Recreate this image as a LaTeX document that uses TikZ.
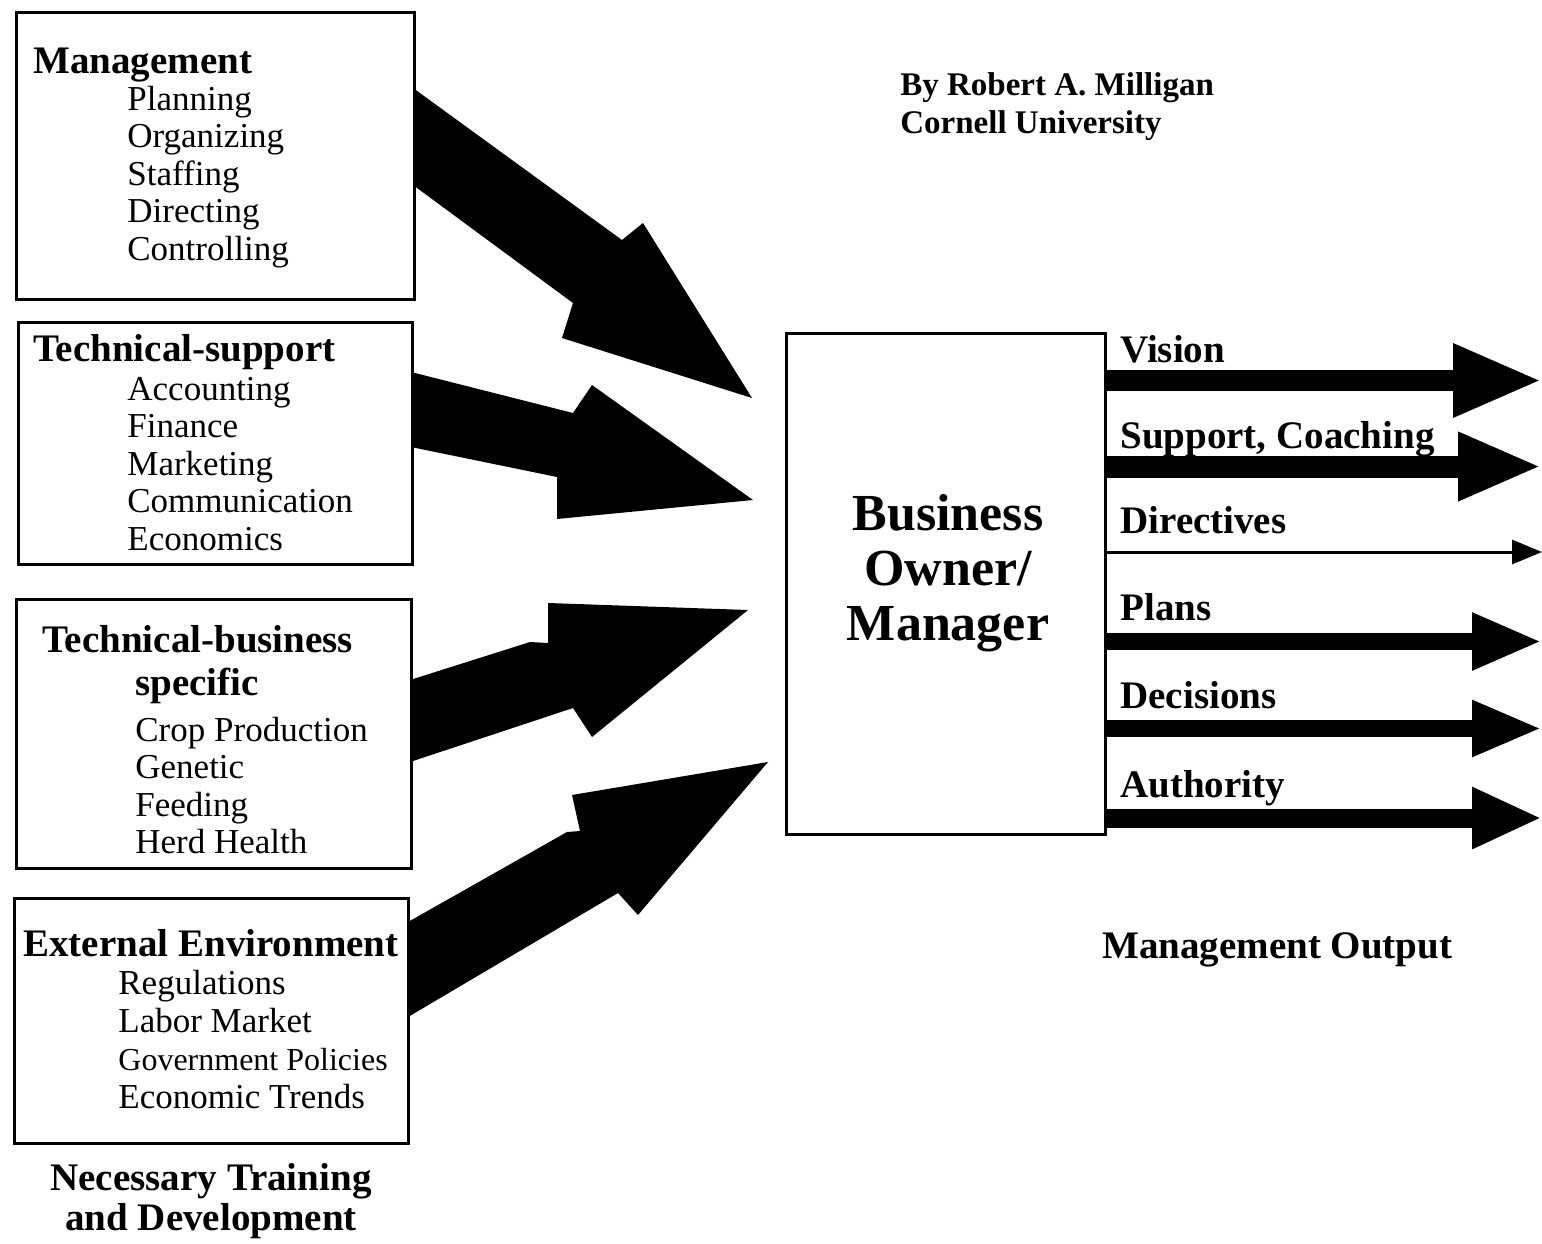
\documentclass[tikz,border=0pt]{standalone}
\usepackage{fontspec}
\setmainfont{Liberation Serif}
\usetikzlibrary{arrows.meta}
\begin{document}
\begin{tikzpicture}[x=0.5pt,y=-0.5pt,
  box/.style={draw, line width=1.5pt, anchor=north west, inner sep=0pt},
  ttl/.style={anchor=base west, inner sep=0pt, font=\fontsize{19.5}{22}\selectfont\bfseries},
  itm/.style={anchor=base west, inner sep=0pt, font=\fontsize{17.5}{20}\selectfont},
  ctr/.style={anchor=base, inner sep=0pt, font=\fontsize{26}{30}\selectfont\bfseries},
  byl/.style={anchor=base west, inner sep=0pt, font=\fontsize{16.5}{19}\selectfont\bfseries},
  bigarrow/.style={fill=black, draw=none},
  outarrow/.style n args={3}{line width=#1, -{Triangle[length=#2,width=#3]}}]
\useasboundingbox (0,0) rectangle (1542,1243);

% boxes
\node[box, minimum width=199pt, minimum height=143.5pt] (b1) at (15,11) {};
\node[box, minimum width=197pt, minimum height=121pt] (b2) at (17,321) {};
\node[box, minimum width=197.5pt, minimum height=134.5pt] (b3) at (15,598) {};
\node[box, minimum width=197pt, minimum height=122.5pt] (b4) at (13,897) {};
\node[box, minimum width=159.5pt, minimum height=250.5pt] (c) at (785,332) {};

% box 1
\node[ttl] (t1) at (33,73) {Management};
\foreach \t [count=\i] in {Planning,Organizing,Staffing,Directing,Controlling}
  \node[itm] (i1\i) at (127,110+37.5*\i-37.5) {\t};
% box 2
\node[ttl] (t2) at (33,361) {Technical-support};
\foreach \t [count=\i] in {Accounting,Finance,Marketing,Communication,Economics}
  \node[itm] (i2\i) at (127,400+37.5*\i-37.5) {\t};
% box 3
\node[ttl] (t3) at (42,652) {Technical-business};
\node[ttl] (t3b) at (135,695) {specific};
\foreach \t [count=\i] in {Crop Production,Genetic,Feeding,Herd Health}
  \node[itm] (i3\i) at (135,741+37.5*\i-37.5) {\t};
% box 4
\node[ttl] (t4) at (23,956) {External Environment};
\node[itm] (i41) at (118,994) {Regulations};
\node[itm] (i42) at (118,1032) {Labor Market};
\node[itm, font=\fontsize{16}{19}\selectfont] (i43) at (118,1070) {Government Policies};
\node[itm] (i44) at (118,1108) {Economic Trends};

\node[ttl, anchor=base] (n1) at (211,1190) {Necessary Training};
\node[ttl, anchor=base] (n2) at (211,1230) {and Development};

% byline
\node[byl] (by1) at (900,95) {By Robert A. Milligan};
\node[byl] (by2) at (900,133) {Cornell University};

% center
\node[ctr] (c1) at (948,530) {Business};
\node[ctr] (c2) at (948,585) {Owner/};
\node[ctr] (c3) at (948,640) {Manager};

% big input arrows
\fill[bigarrow] (413,88) -- (622,240) -- (643,223) -- (752,398) -- (562,338) -- (573,303) -- (413,185) -- cycle;
\fill[bigarrow] (411,372) -- (573,413) -- (592,385) -- (753,500) -- (557,519) -- (557,477) -- (411,447) -- cycle;
\fill[bigarrow] (410,680) -- (530,642) -- (548,643) -- (548,603) -- (748,610) -- (592,737) -- (573,708) -- (410,762) -- cycle;
\fill[bigarrow] (408,922) -- (567,832) -- (580,831) -- (572,795) -- (768,762) -- (638,915) -- (618,893) -- (408,1017) -- cycle;

% outputs
\coordinate (o1) at (1542,380.5);
\coordinate (o2) at (1542,466.5);
\coordinate (o3) at (1542,552);
\coordinate (o4) at (1542,641.5);
\coordinate (o5) at (1542,728.5);
\coordinate (o6) at (1542,818);
\draw[outarrow={10.5pt}{44.5pt}{34pt}] (c.east |- o1) -- (o1);
\draw[outarrow={11pt}{42pt}{31.5pt}] (c.east |- o2) -- (o2);
\draw[outarrow={1.5pt}{15pt}{12pt}] (c.east |- o3) -- (o3);
\draw[outarrow={8.5pt}{35pt}{26.5pt}] (c.east |- o4) -- (o4);
\draw[outarrow={8.5pt}{35pt}{26pt}] (c.east |- o5) -- (o5);
\draw[outarrow={9.5pt}{35pt}{28.5pt}] (c.east |- o6) -- (o6);

\node[ttl] (l1) at (1120,362) {Vision};
\node[ttl] (l2) at (1120,448) {Support, Coaching};
\node[ttl] (l3) at (1120,533) {Directives};
\node[ttl] (l4) at (1120,620) {Plans};
\node[ttl] (l5) at (1120,708) {Decisions};
\node[ttl] (l6) at (1120,797) {Authority};

\node[ttl] (mo) at (1102,958) {Management Output};
\end{tikzpicture}
\end{document}
